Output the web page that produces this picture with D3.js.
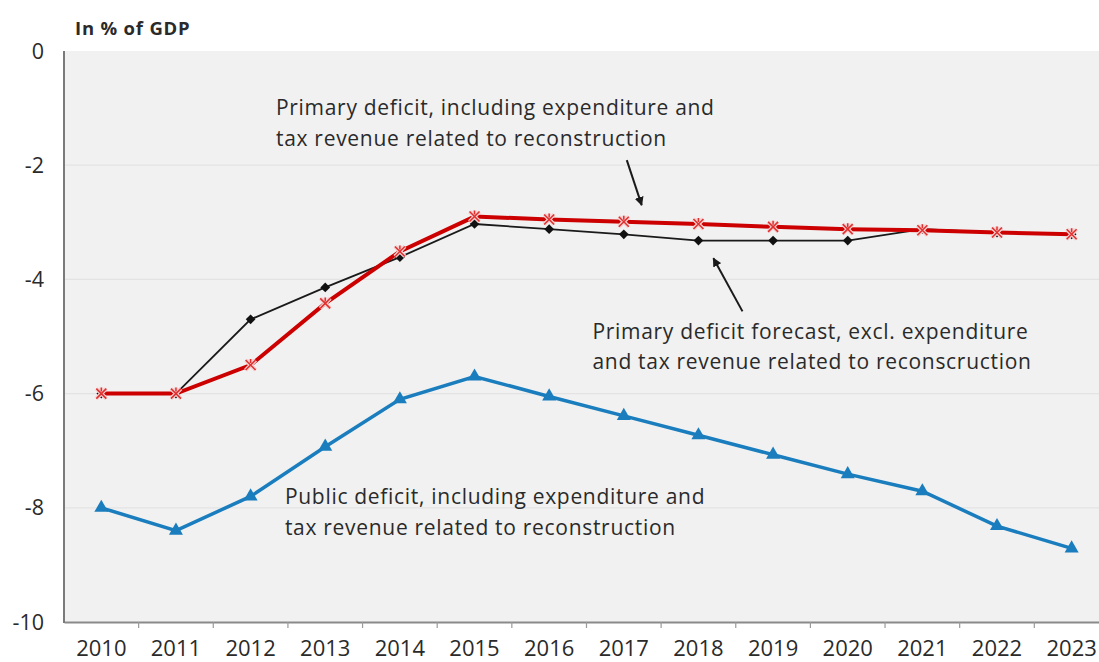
<!DOCTYPE html>
<html>
<head>
<meta charset="utf-8">
<script src="https://cdn.jsdelivr.net/npm/d3@7"></script>
<style>
  html, body { margin: 0; padding: 0; background: #fff; }
  svg { display: block; font-family: "Open Sans", "Noto Sans", sans-serif; }
</style>
</head>
<body>
<svg id="chart" width="1099" height="662"></svg>
<script>
const years = ["2010","2011","2012","2013","2014","2015","2016","2017","2018","2019","2020","2021","2022","2023"];
const primaryIncl = [-6.0, -6.0, -5.5, -4.42, -3.51, -2.9, -2.95, -2.99, -3.03, -3.08, -3.12, -3.14, -3.18, -3.21];
const primaryExcl = [-6.0, -6.0, -4.7, -4.14, -3.61, -3.03, -3.12, -3.21, -3.32, -3.32, -3.32, -3.12, -3.18, -3.21];
const publicDeficit = [-8.0, -8.4, -7.8, -6.93, -6.1, -5.7, -6.05, -6.39, -6.73, -7.07, -7.41, -7.71, -8.32, -8.71];
const yTicks = [0, -2, -4, -6, -8, -10];
const yTitle = "In % of GDP";
const annoIncl = ["Primary deficit, including expenditure and", "tax revenue related to reconstruction"];
const annoExcl = ["Primary deficit forecast, excl. expenditure", "and tax revenue related to reconscruction"];
const annoPublic = ["Public deficit, including expenditure and", "tax revenue related to reconstruction"];

(function () {
const svg = d3.select("#chart");
const mLeft = 64, mTop = 51, mBottom = 622, step = 74.64;
const x = d3.scaleBand().domain(years).range([mLeft, mLeft + step * years.length]).padding(0);
const y = d3.scaleLinear().domain([-10, 0]).range([mBottom, mTop]);
const cx = d => x(d) + x.bandwidth() / 2;
const xu = u => x.range()[0] + u * x.step();

svg.append("rect").attr("x", mLeft).attr("y", mTop)
  .attr("width", 1099 - mLeft).attr("height", mBottom - mTop).attr("fill", "#f1f1f1");

svg.append("g").selectAll("line").data(yTicks.filter(t => t !== 0 && t !== -10)).join("line")
  .attr("x1", mLeft).attr("x2", 1099).attr("y1", d => y(d)).attr("y2", d => y(d))
  .attr("stroke", "#e3e3e3").attr("stroke-width", 1.2);

svg.append("g").selectAll("text").data(yTicks).join("text")
  .attr("x", 44).attr("y", d => y(d)).attr("dy", "0.35em")
  .attr("text-anchor", "end").attr("font-size", 21.5).attr("fill", "#2a2a2a")
  .text(d => d);

svg.append("text").attr("x", 75).attr("y", 35).attr("font-size", 18.5)
  .attr("letter-spacing", 0.8)
  .attr("font-weight", "bold").attr("fill", "#2a2a2a").text(yTitle);

const xAxis = d3.axisBottom(x).tickSize(6).tickSizeOuter(0).tickFormat("");
const gx = svg.append("g").attr("transform", `translate(0,${mBottom})`).call(xAxis);
gx.select(".domain").attr("stroke", "#8a8a8a").attr("stroke-width", 2);
gx.selectAll(".tick").attr("transform", d => `translate(${x(d)},0)`);
gx.selectAll(".tick line").attr("stroke", "#9a9a9a").attr("stroke-width", 1.2);
gx.selectAll(".tick").filter((d, i) => i === 0).remove();
svg.append("g").selectAll("text").data(years).join("text")
  .attr("x", d => cx(d)).attr("y", 656).attr("text-anchor", "middle")
  .attr("font-size", 22).attr("fill", "#2a2a2a").text(d => d);

svg.append("line").attr("x1", mLeft).attr("x2", mLeft).attr("y1", mTop).attr("y2", mBottom + 1)
  .attr("stroke", "#7a7a7a").attr("stroke-width", 2);

const line = d3.line().x((d, i) => cx(years[i])).y(d => y(d));

svg.append("path").datum(publicDeficit).attr("d", line)
  .attr("fill", "none").attr("stroke", "#1a7dbd").attr("stroke-width", 3.5);
const tri = d3.symbol().type(d3.symbolTriangle).size(85);
svg.append("g").selectAll("path").data(publicDeficit).join("path")
  .attr("transform", (d, i) => `translate(${cx(years[i])},${y(d)})`)
  .attr("d", tri).attr("fill", "#1a7dbd");

svg.append("path").datum(primaryExcl).attr("d", line)
  .attr("fill", "none").attr("stroke", "#1a1a1a").attr("stroke-width", 1.8);
const dia = d3.symbol().type(d3.symbolDiamond2).size(60);
svg.append("g").selectAll("path").data(primaryExcl).join("path")
  .attr("transform", (d, i) => `translate(${cx(years[i])},${y(d)})`)
  .attr("d", dia).attr("fill", "#111");

svg.append("path").datum(primaryIncl).attr("d", line)
  .attr("fill", "none").attr("stroke", "#cc0000").attr("stroke-width", 4);
const star = "M-5,-5L5,5M-5,5L5,-5M0,-6L0,-2";
const gStar = svg.append("g").selectAll("g").data(primaryIncl).join("g")
  .attr("transform", (d, i) => `translate(${cx(years[i])},${y(d)})`);
gStar.append("path").attr("d", star).attr("stroke", "#f6d0d0").attr("stroke-width", 4).attr("fill", "none");
gStar.append("path").attr("d", star).attr("stroke", "#e03030").attr("stroke-width", 1.5).attr("fill", "none");

function anno(lines, u, v, gap) {
  svg.append("g").selectAll("text").data(lines).join("text")
    .attr("x", xu(u)).attr("y", (d, i) => y(v) + i * gap)
    .attr("font-size", 21).attr("letter-spacing", 0.7)
    .attr("fill", "#2a2a2a").text(d => d);
}
anno(annoIncl, 2.84, -1.12, 31);
anno(annoExcl, 7.08, -5.05, 30);
anno(annoPublic, 2.96, -7.93, 31);

svg.append("defs").append("marker").attr("id", "ah").attr("viewBox", "0 0 10 10")
  .attr("refX", 9).attr("refY", 5).attr("markerWidth", 9).attr("markerHeight", 9)
  .attr("markerUnits", "userSpaceOnUse").attr("orient", "auto")
  .append("path").attr("d", "M0,0L10,5L0,10Z").attr("fill", "#1a1a1a");
function arrow(u1, v1, u2, v2) {
  svg.append("line").attr("x1", xu(u1)).attr("y1", y(v1)).attr("x2", xu(u2)).attr("y2", y(v2))
    .attr("stroke", "#1a1a1a").attr("stroke-width", 2).attr("marker-end", "url(#ah)");
}
arrow(7.54, -1.91, 7.74, -2.7);
arrow(9.09, -4.56, 8.70, -3.63);
})();
</script>
</body>
</html>
